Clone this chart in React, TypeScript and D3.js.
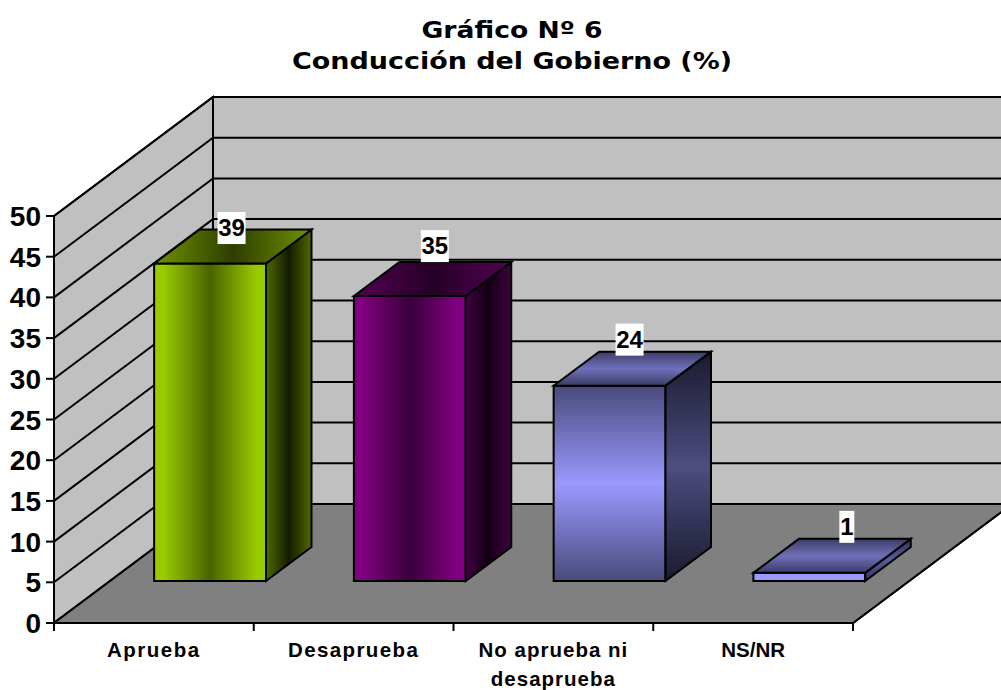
import React from "react";
import * as d3 from "d3";

const titleLines = ["Gráfico Nº 6", "Conducción del Gobierno (%)"];
const categories = ["Aprueba", "Desaprueba", "No aprueba ni|desaprueba", "NS/NR"];
const values = [39, 35, 24, 1];
const yTicks = [0, 5, 10, 15, 20, 25, 30, 35, 40, 45, 50];

const W = 1001, H = 690;
const LEFT = 54, RIGHT = 853, BASE = 623, TOP = 216;
const DX = 159, DY = -119;          // wall depth
const BDX = 45.5, BDY = -34;        // bar depth
const OX = 56.2, OY = -42;          // bar position inside the floor
const labelNudge: [number, number][] = [[21.5, 14.5], [25, 0], [20, 4], [37.5, 4]];
const barStyles = ["g", "p", "b", "t"];
const titleWidths = [181, 440];
const labelSpacing = [1.5, 1.4, 1.0, 0];

const x = d3.scaleBand<string>().domain(categories).range([LEFT, RIGHT]).paddingInner(0.44).paddingOuter(0.22);
const y = d3.scaleLinear().domain([0, 50]).range([BASE, TOP]);
const line = d3.line<[number, number]>();
const poly = (p: [number, number][]) => line(p) + "Z";

type Stop = [number, string];
const H3 = (id: string, a: string, b: string, s1 = 0.08): [string, boolean, Stop[]] =>
  [id, true, [[0, a], [s1, a], [0.5, b], [1 - s1, a], [1, a]]];
const V3 = (id: string, a: string, b: string, m = 0.5): [string, boolean, Stop[]] =>
  [id, false, [[0, a], [m, b], [1, a]]];
const gradients: [string, boolean, Stop[]][] = [
  H3("gF", "#99cc00", "#4a6300"), H3("gS", "#4c6600", "#141b00", 0.02), H3("gT", "#6c9000", "#2e3d00", 0.02),
  H3("pF", "#800080", "#3a003a"), H3("pS", "#400040", "#120012", 0.02), H3("pT", "#520052", "#260026", 0.02),
  V3("bF", "#4a4a7c", "#9999ff", 0.5), V3("bS", "#1a1a2e", "#4d4d80", 0.5), V3("bT", "#3c3c66", "#7070bb", 0.5),
  V3("tF", "#9999ff", "#9999ff", 0.5), V3("tS", "#33335a", "#5a5aa0", 0.5), V3("tT", "#3c3c66", "#7070bb", 0.5),
];

const stroke = { stroke: "#000", strokeWidth: 2, strokeLinejoin: "miter" as const };
const SANS = "'Liberation Sans', Arial, sans-serif";

export default function App() {
  const floor: [number, number][] = [[LEFT, BASE], [RIGHT, BASE], [RIGHT + DX, BASE + DY], [LEFT + DX, BASE + DY]];
  const back: [number, number][] = [[LEFT + DX, y(50) + DY], [W + 20, y(50) + DY], [W + 20, BASE + DY], [LEFT + DX, BASE + DY]];
  const side: [number, number][] = [[LEFT, BASE], [LEFT, y(50)], [LEFT + DX, y(50) + DY], [LEFT + DX, BASE + DY]];
  const bw = x.bandwidth();
  return (
    <svg width={W} height={H} viewBox={`0 0 ${W} ${H}`} style={{ position: "absolute", left: 0, top: 0, background: "#fff" }}>
      <defs>
        {gradients.map(([id, horiz, stops]) => (
          <linearGradient key={id} id={id} x1="0" y1="0" x2={horiz ? 1 : 0} y2={horiz ? 0 : 1}>
            {stops.map(([o, c], i) => <stop key={i} offset={o} stopColor={c} />)}
          </linearGradient>
        ))}
      </defs>

      {titleLines.map((t, i) => (
        <text key={t} x={512} y={38 + i * 31} textAnchor="middle" fontFamily="'DejaVu Sans', Verdana, sans-serif"
          fontWeight="bold" fontSize={22.5} fill="#000" textLength={titleWidths[i]} lengthAdjust="spacingAndGlyphs">{t}</text>
      ))}

      <path d={poly(back)} fill="#c0c0c0" {...stroke} />
      <path d={poly(side)} fill="#c0c0c0" {...stroke} />
      <path d={poly(floor)} fill="#808080" {...stroke} />

      {yTicks.filter(t => t > 0).map(t => (
        <g key={t}>
          <path d={line([[LEFT, y(t)], [LEFT + DX, y(t) + DY], [W + 20, y(t) + DY]])!} fill="none" {...stroke} />
        </g>
      ))}
      <path d={poly(floor)} fill="#808080" {...stroke} />

      {yTicks.map(t => (
        <g key={t}>
          <path d={line([[LEFT - 8, y(t)], [LEFT, y(t)]])!} {...stroke} />
          <text x={LEFT - 13} y={y(t) + 10} textAnchor="end" fontFamily={SANS} fontWeight="bold" fontSize={28}>{t}</text>
        </g>
      ))}
      <path d={line([[LEFT, y(50)], [LEFT, BASE + 8]])!} {...stroke} />
      {d3.range(categories.length + 1).map(i => {
        const px = LEFT + (i * (RIGHT - LEFT)) / categories.length;
        return <path key={i} d={line([[px, BASE], [px, BASE + 8]])!} {...stroke} />;
      })}

      {categories.map((c, i) => {
        const x0 = x(c)! + OX, x1 = x0 + bw;
        const yb = y(0) + OY, yt = y(values[i]) + OY;
        const s = barStyles[i];
        return (
          <g key={c}>
            <path d={poly([[x0, yb], [x1, yb], [x1, yt], [x0, yt]])} fill={`url(#${s}F)`} {...stroke} />
            <path d={poly([[x1, yb], [x1 + BDX, yb + BDY], [x1 + BDX, yt + BDY], [x1, yt]])} fill={`url(#${s}S)`} {...stroke} />
            <path d={poly([[x0, yt], [x1, yt], [x1 + BDX, yt + BDY], [x0 + BDX, yt + BDY]])} fill={`url(#${s}T)`} {...stroke} />
          </g>
        );
      })}

      {categories.map((c, i) => {
        const cx = x(c)! + OX + bw / 2 + labelNudge[i][0];
        const bottom = y(values[i]) + OY + BDY + labelNudge[i][1];
        const w = String(values[i]).length === 1 ? 15 : 28;
        return (
          <g key={c}>
            <rect x={cx - w / 2} y={bottom - 32} width={w} height={32} fill="#fff" />
            <text x={cx} y={bottom - 8} textAnchor="middle" fontFamily={SANS} fontWeight="bold" fontSize={24}>{values[i]}</text>
          </g>
        );
      })}

      {categories.map((c, i) => {
        const cx = x(c)! + bw / 2;
        return c.split("|").map((t, j) => (
          <text key={t} x={cx} y={656.5 + j * 29} textAnchor="middle" fontFamily={SANS} fontWeight="bold" fontSize={20.5}
            letterSpacing={labelSpacing[i]}>{t}</text>
        ));
      })}
    </svg>
  );
}
